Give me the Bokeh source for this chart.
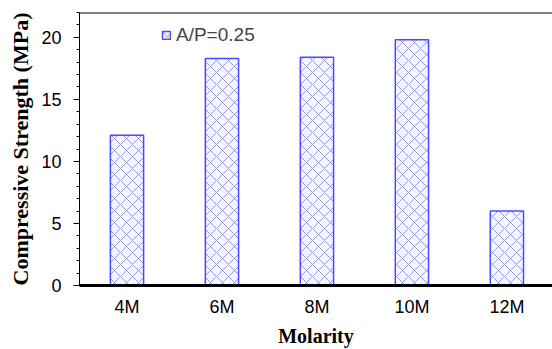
from bokeh.plotting import figure
from bokeh.models import Range1d, FixedTicker, Span, Legend, LegendItem, ColumnDataSource
from bokeh.embed import file_html
from bokeh.resources import INLINE

categories = ["4M", "6M", "8M", "10M", "12M"]
strength = [12.1, 18.3, 18.4, 19.8, 6.0]
series_name = "A/P=0.25"
y_ticks = [0, 5, 10, 15, 20]

xs = list(range(len(categories)))
src = ColumnDataSource(dict(x=xs, top=strength))

p = figure(width=552, height=349, output_backend="svg", toolbar_location=None,
           x_range=Range1d(-0.5, len(categories) - 0.52), y_range=Range1d(0, 22),
           min_border_left=79, min_border_top=12, min_border_right=0, min_border_bottom=60)
p.outline_line_color = None
p.background_fill_color = "white"
p.border_fill_color = "white"
p.xgrid.visible = False
p.ygrid.visible = False

r = p.vbar(x="x", top="top", width=0.35, source=src,
           fill_color="#f6f6ff", line_color="#4a4aff", line_width=1.5,
           hatch_pattern="x", hatch_color="#7f7ff0", hatch_alpha=0.8,
           hatch_scale=12, hatch_weight=1)

# x axis
p.xaxis.ticker = FixedTicker(ticks=xs)
p.xaxis.major_label_overrides = {i: c for i, c in zip(xs, categories)}
p.xaxis.major_tick_line_color = None
p.xaxis.minor_tick_line_color = None
p.xaxis.axis_line_width = 3
p.xaxis.axis_line_color = "black"
p.xaxis.major_label_text_font = "Liberation Sans"
p.xaxis.major_label_text_font_size = "18px"
p.xaxis.major_label_text_color = "black"
p.xaxis.major_label_standoff = 5
p.xaxis.axis_label = "Molarity"
p.xaxis.axis_label_text_font = "Liberation Serif"
p.xaxis.axis_label_text_font_style = "bold"
p.xaxis.axis_label_text_font_size = "20px"
p.xaxis.axis_label_text_color = "black"
p.xaxis.axis_label_standoff = 5

# y axis
p.yaxis.ticker = FixedTicker(ticks=y_ticks, minor_ticks=list(range(0, 23)))
p.yaxis.major_tick_out = 6
p.yaxis.major_tick_in = 0
p.yaxis.minor_tick_out = 3
p.yaxis.minor_tick_in = 0
p.yaxis.axis_line_color = "black"
p.yaxis.major_tick_line_color = "black"
p.yaxis.minor_tick_line_color = "black"
p.yaxis.major_label_text_font = "Liberation Sans"
p.yaxis.major_label_text_font_size = "18px"
p.yaxis.major_label_text_color = "black"
p.yaxis.major_label_standoff = 12
p.yaxis.axis_label = "Compressive Strength (MPa)"
p.yaxis.axis_label_text_font = "Liberation Serif"
p.yaxis.axis_label_text_font_style = "bold"
p.yaxis.axis_label_text_font_size = "22px"
p.yaxis.axis_label_text_color = "black"
p.yaxis.axis_label_standoff = 5

# top border line
p.add_layout(Span(location=22, dimension="width", line_color="black", line_width=2))

legend = Legend(items=[LegendItem(label=series_name, renderers=[r])],
                location=(82, 239), padding=0, margin=0, spacing=0,
                glyph_width=10, glyph_height=10, label_standoff=5,
                label_text_font="Liberation Sans", label_text_font_size="19px",
                border_line_color=None, background_fill_alpha=0)
p.add_layout(legend)

open("out.html", "w").write(file_html(p, INLINE))
